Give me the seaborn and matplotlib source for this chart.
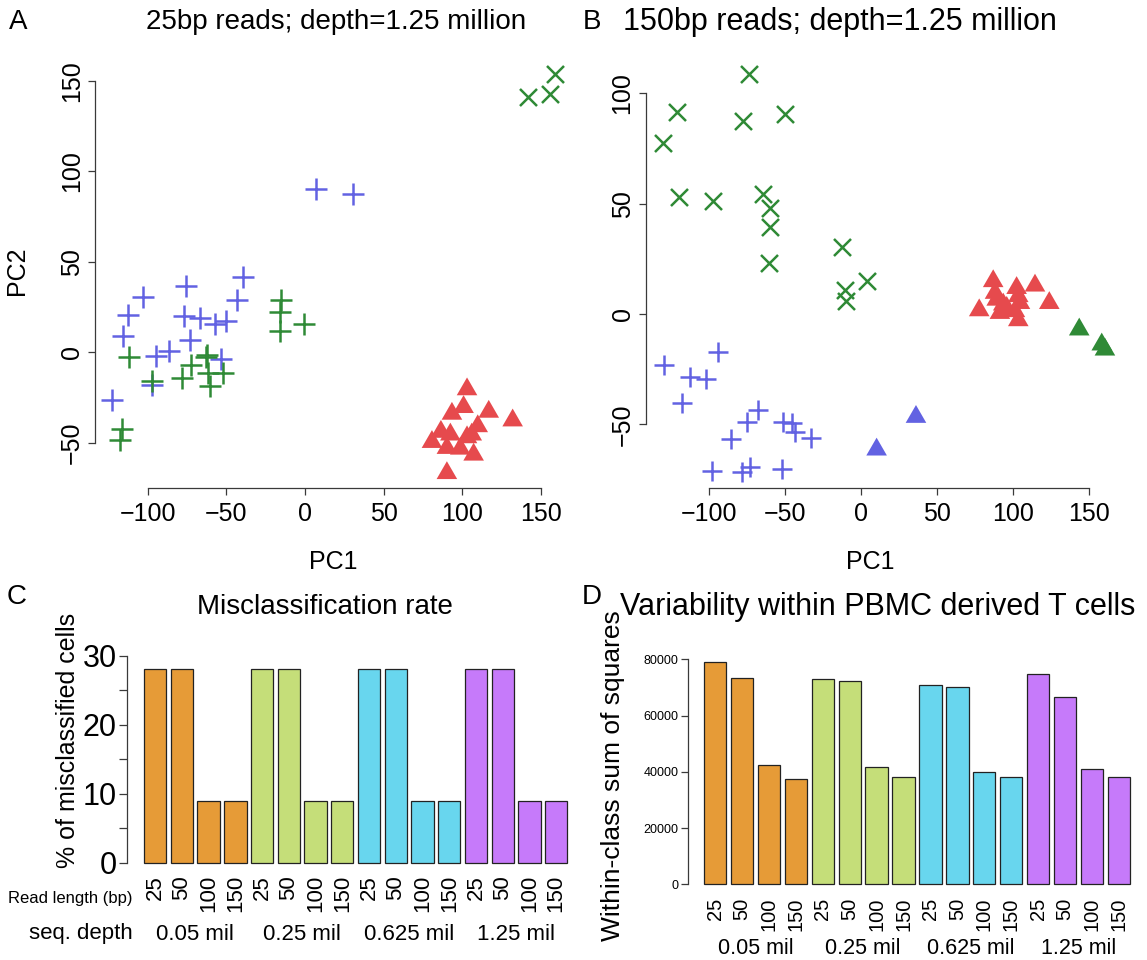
import matplotlib
matplotlib.use("Agg")
import matplotlib.pyplot as plt
import matplotlib.transforms as mtransforms
from matplotlib.path import Path
import numpy as np
import pandas as pd
import seaborn as sns

# ---------------- data ----------------
# Panel A (25bp reads, depth 1.25 million)
a_plus_blue_x = [-39.7, -103, -75.8, -43.1, -112.3, -76.9, -66.7, -57.3, -50.3, -115.5,
                 -73.4, -86.2, -94.9, -53.1, -97.5, -122.7, 7, 30.6]
a_plus_blue_y = [41.7, 30.2, 36.3, 28.9, 20.4, 20, 19.1, 15.4, 17, 8.9,
                 6.5, 0.6, -2, -4, -18, -26.5, 90, 87.2]
a_plus_green_x = [-15.3, -15.9, -15.9, -0.4, -112.1, -62.6, -63, -72.2, -78.1, -97,
                  -52, -60.5, -61.6, -116.1, -117.6]
a_plus_green_y = [28.9, 22.2, 11.7, 15.4, -2.8, -1.3, -2.8, -6.9, -14.3, -16.1,
                  -11.7, -18.5, -11.7, -42.2, -48.7]
a_x_green_x = [142, 155.6, 159]
a_x_green_y = [141, 142.6, 153.9]
a_tri_red_x = [103, 100.8, 93.4, 116.8, 132, 109.8, 86.4, 80.7, 92.4, 103, 106, 90.2,
               98.7, 107.2, 90.2]
a_tri_red_y = [-18.9, -28.7, -32.4, -31.3, -36.1, -39.3, -42.4, -48, -43.9, -45.4,
               -43.9, -51.3, -51.7, -55, -65.2]

# Panel B (150bp reads, depth 1.25 million)
b_x_green_x = [-130.3, -121, -73.3, -77.6, -49.6, -119.3, -97, -64.5, -59.7, -59.7,
               -60.1, -12.5, -10.3, -9.7, 3.9]
b_x_green_y = [77.3, 91.4, 108.7, 87.4, 90.6, 52.9, 51.3, 54.4, 47.9, 39.6,
               23, 30.5, 10.9, 6, 15]
b_plus_blue_x = [-129.2, -94.1, -112.3, -102, -117.8, -67.8, -75, -50.9, -45.4, -43.2,
                 -32.9, -85.5, -97.6, -78.3, -72.8, -51.6]
b_plus_blue_y = [-23.1, -17.4, -28.4, -29.3, -40.2, -43.5, -48.8, -48.8, -49.5, -53.3,
                 -56.3, -56.8, -71, -71.5, -69.5, -70.4]
b_tri_blue_x = [10.5, 36.4]
b_tri_blue_y = [-60.1, -45.3]
b_tri_red_x = [87.2, 78.0, 102.6, 114.7, 124.1, 88.4, 89.5, 93.8, 103.7, 104.8, 91.6,
               101.5, 103.7, 96.1]
b_tri_red_y = [16.2, 3, 13.1, 14.2, 6.3, 10.9, 7.8, 5.6, 9.4, 6.3, 1.8, 2.6, -1.5, 4.1]
b_tri_green_x = [143.8, 158.6, 160.7]
b_tri_green_y = [-5.7, -12.5, -14.8]

# Bar panels
depths = ["0.05 mil", "0.25 mil", "0.625 mil", "1.25 mil"]
read_lengths = ["25", "50", "100", "150"]
misclass_pct = [28, 28, 9, 9, 28, 28, 9, 9, 28, 28, 9, 9, 28, 28, 9, 9]
within_ss = [78900, 73400, 42300, 37450, 73100, 72200, 41600, 38150,
             70750, 70300, 39800, 38300, 74650, 66700, 40900, 38050]

# ---------------- style ----------------
W, H = 1147, 960
sns.set_theme(style="white")
plt.rcParams["font.family"] = ["Liberation Sans", "DejaVu Sans"]
plt.rcParams["axes.unicode_minus"] = True
for k in ["text.color", "axes.labelcolor", "xtick.labelcolor", "ytick.labelcolor"]:
    plt.rcParams[k] = "black"

c_blue = "#6262E2"
c_green = "#2F8A36"
c_red = "#E64A4D"
bar_cols = ["#E69B37", "#C5DE79", "#68D6EE", "#C67AFA"]
ax_col = "#3a3a3a"

tri = Path([(0, 0.433), (-0.5, -0.433), (0.5, -0.433), (0, 0.433)],
           [Path.MOVETO, Path.LINETO, Path.LINETO, Path.CLOSEPOLY])

fig = plt.figure(figsize=(W / 100, H / 100), dpi=100)


def ftext(px, py, s, **kw):
    fig.text(px / W, 1 - py / H, s, color="black", **kw)


def px_axes(l, r, t, b):
    return fig.add_axes([l / W, 1 - b / H, (r - l) / W, (b - t) / H])


def style_scatter_axes(ax, xt, yt):
    for s in ["top", "right"]:
        ax.spines[s].set_visible(False)
    for s in ["left", "bottom"]:
        ax.spines[s].set_color(ax_col)
        ax.spines[s].set_linewidth(0.9)
    ax.set_xticks(xt)
    ax.set_yticks(yt)
    ax.spines["bottom"].set_bounds(xt[0], xt[-1])
    ax.spines["left"].set_bounds(yt[0], yt[-1])
    ax.tick_params(axis="both", direction="out", length=5, width=0.9,
                   color=ax_col, labelsize=18, labelcolor="black", pad=5,
                   bottom=True, left=True)
    ax.tick_params(axis="y", labelrotation=90, pad=3)
    for lab in ax.get_yticklabels():
        lab.set_va("center")
    ax.set_xlabel("")
    ax.set_ylabel("")
    ax.grid(False)


def scat(ax, x, y, marker, color, s, lw):
    sns.scatterplot(x=x, y=y, marker=marker, color=color, s=s, linewidth=lw,
                    ax=ax, legend=False, edgecolor=color if marker in ("+", "x") else "none")


# ---------------- Panel A ----------------
axA = px_axes(95, 572.9, 57.7, 487.7)
scat(axA, a_plus_blue_x, a_plus_blue_y, "+", c_blue, 250, 1.8)
scat(axA, a_plus_green_x, a_plus_green_y, "+", c_green, 250, 1.8)
scat(axA, a_x_green_x, a_x_green_y, "x", c_green, 150, 1.8)
scat(axA, a_tri_red_x, a_tri_red_y, tri, c_red, 220, 0)
axA.set_xlim(-133.5, 170.3)
axA.set_ylim(-74.9, 162.7)
style_scatter_axes(axA, [-100, -50, 0, 50, 100, 150], [-50, 0, 50, 100, 150])

# ---------------- Panel B ----------------
axB = px_axes(645.7, 1125.6, 58.2, 488.3)
scat(axB, b_x_green_x, b_x_green_y, "x", c_green, 150, 1.8)
scat(axB, b_plus_blue_x, b_plus_blue_y, "+", c_blue, 220, 1.8)
scat(axB, b_tri_blue_x, b_tri_blue_y, tri, c_blue, 220, 0)
scat(axB, b_tri_red_x, b_tri_red_y, tri, c_red, 220, 0)
scat(axB, b_tri_green_x, b_tri_green_y, tri, c_green, 220, 0)
axB.set_xlim(-141.4, 174.3)
axB.set_ylim(-79.0, 115.9)
style_scatter_axes(axB, [-100, -50, 0, 50, 100, 150], [-50, 0, 50, 100])

# ---------------- bar panels ----------------
bar_ids = [f"{d} | {r}" for d in depths for r in read_lengths]
bar_palette = [c for c in bar_cols for _ in read_lengths]


def bar_panel(ax, values, lab_size):
    df = pd.DataFrame({"bar": bar_ids, "value": values})
    sns.barplot(data=df, x="bar", y="value", hue="bar", palette=bar_palette,
                legend=False, width=1 / 1.2, saturation=1, edgecolor="#222222",
                linewidth=0.9, ax=ax)
    for s in ["top", "right", "bottom"]:
        ax.spines[s].set_visible(False)
    ax.spines["left"].set_color(ax_col)
    ax.spines["left"].set_linewidth(0.9)
    ax.set_xticks(range(len(bar_ids)))
    ax.set_xticklabels([r for _ in depths for r in read_lengths], rotation=90,
                       fontsize=lab_size, color="black")
    ax.tick_params(axis="x", length=0, pad=3)
    ax.set_xlabel("")
    ax.set_ylabel("")
    ax.grid(False)


# Panel C
axC = px_axes(126.7, 584.7, 647.4, 871)
bar_panel(axC, misclass_pct, 16)
axC.set_xlim(-1.064, 16.064)
axC.set_ylim(-1.2, 31.2)
axC.set_yticks([0, 10, 20, 30])
axC.set_yticks([5, 15, 25], minor=True)
axC.spines["left"].set_bounds(0, 30)
axC.tick_params(axis="y", which="both", direction="out", length=6, width=0.9,
                color=ax_col, left=True, labelsize=22, pad=1, labelcolor="black")

# Panel D
axD = px_axes(688, 1146, 653.4, 893.2)
bar_panel(axD, within_ss, 14.5)
axD.set_xlim(-1.012, 16.012)
axD.set_ylim(-3157, 82090)
axD.set_yticks([0, 20000, 40000, 60000, 80000])
axD.set_yticklabels(["0", "20000", "40000", "60000", "80000"])
axD.spines["left"].set_bounds(0, 80000)
axD.tick_params(axis="y", direction="out", length=5, width=0.9, color=ax_col,
                left=True, labelsize=9, pad=2, labelcolor="black")

# group labels under bars
for ax, ypx, fs in [(axC, 934, 16), (axD, 948, 15.5)]:
    tr = mtransforms.blended_transform_factory(ax.transData, fig.transFigure)
    for i, d in enumerate(depths):
        ax.text(4 * i + 1.5, 1 - ypx / H, d, transform=tr, ha="center", va="center",
                fontsize=fs, color="black")

# ---------------- texts ----------------
ftext(18, 22, "A", fontsize=20, ha="center", va="center")
ftext(592, 22, "B", fontsize=20, ha="center", va="center")
ftext(17, 597, "C", fontsize=20, ha="center", va="center")
ftext(592, 597, "D", fontsize=20, ha="center", va="center")

ftext(336, 22, "25bp reads; depth=1.25 million", fontsize=20, ha="center", va="center")
ftext(840, 22, "150bp reads; depth=1.25 million", fontsize=22, ha="center", va="center")
ftext(325, 607, "Misclassification rate", fontsize=20, ha="center", va="center")
ftext(878, 607, "Variability within PBMC derived T cells", fontsize=22, ha="center",
      va="center")

ftext(333, 562, "PC1", fontsize=18, ha="center", va="center")
ftext(870, 562, "PC1", fontsize=18, ha="center", va="center")
ftext(17, 271, "PC2", fontsize=18, ha="center", va="center", rotation=90)
ftext(68, 740, "% of misclassified cells", fontsize=18, ha="center", va="center",
      rotation=90)
ftext(613, 776, "Within-class sum of squares", fontsize=19, ha="center", va="center",
      rotation=90)
ftext(133, 899, "Read length (bp)", fontsize=12, ha="right", va="center")
ftext(133, 934, "seq. depth", fontsize=16, ha="right", va="center")

fig.savefig("out.png", dpi=100)
